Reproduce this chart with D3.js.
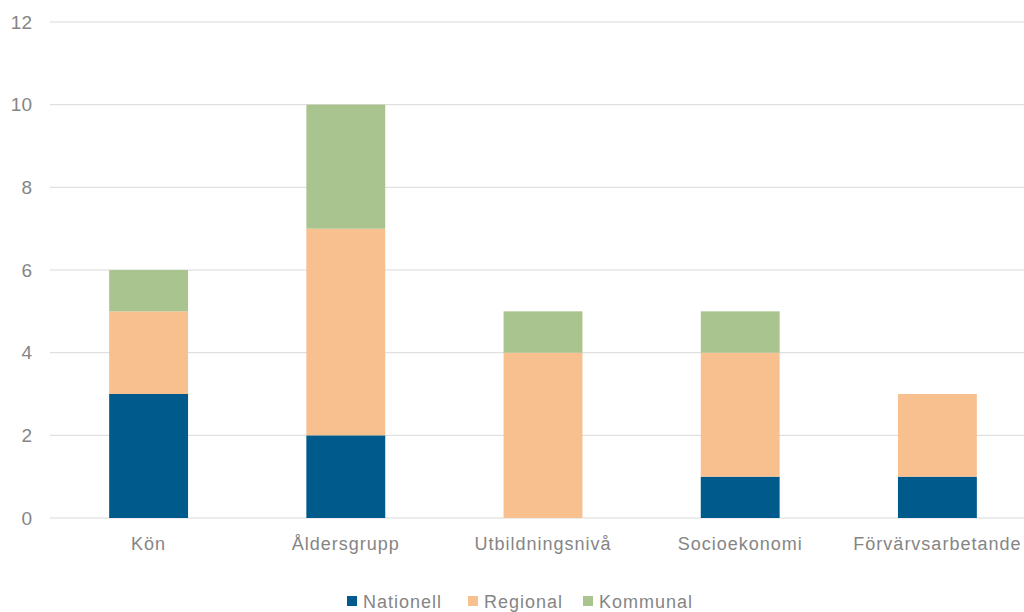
<!DOCTYPE html>
<html>
<head>
<meta charset="utf-8">
<script src="https://cdn.jsdelivr.net/npm/d3@7"></script>
<style>
  body { margin: 0; background: #fff; }
  text { font-family: "Liberation Sans", Arial, sans-serif; }
</style>
</head>
<body>
<div id="chart"></div>
<script>
// data
const categories = ['Kön', 'Åldersgrupp', 'Utbildningsnivå', 'Socioekonomi', 'Förvärvsarbetande'];
const seriesNames = ['Nationell', 'Regional', 'Kommunal'];
const nationell = [3, 2, 0, 1, 1];
const regional = [2, 5, 4, 3, 2];
const kommunal = [1, 3, 1, 1, 0];
const yTicks = [0, 2, 4, 6, 8, 10, 12];

const colors = ['#005a8c', '#f8c08f', '#aac48f'];
const labelColor = '#858585';

const width = 1024, height = 612;
const margin = { left: 50, top: 22, bottom: 94 };

const svg = d3.select('#chart').append('svg')
  .attr('width', width)
  .attr('height', height);

const rows = categories.map((c, i) => ({
  cat: c, Nationell: nationell[i], Regional: regional[i], Kommunal: kommunal[i]
}));

const x = d3.scaleBand()
  .domain(categories)
  .range([margin.left, margin.left + 197.2 * categories.length])
  .paddingInner(0.6)
  .paddingOuter(0.3);

const y = d3.scaleLinear()
  .domain([0, 12])
  .range([height - margin.bottom, margin.top]);

// gridlines
svg.append('g')
  .selectAll('line')
  .data(yTicks)
  .enter()
  .append('line')
  .attr('x1', margin.left)
  .attr('x2', width)
  .attr('y1', d => y(d))
  .attr('y2', d => y(d))
  .style('stroke', '#d9d9d9')
  .style('stroke-width', 1);

// y axis labels
const yAxis = svg.append('g')
  .attr('transform', 'translate(' + 32 + ',0)')
  .call(d3.axisLeft(y).tickValues(yTicks).tickSize(0).tickPadding(0));
yAxis.select('.domain').remove();
yAxis.selectAll('text')
  .style('font-size', '19px')
  .style('fill', labelColor)
  .style('font-family', '"Liberation Sans", Arial, sans-serif');

// stacked bars
const stack = d3.stack().keys(seriesNames)(rows);

svg.append('g')
  .selectAll('g')
  .data(stack)
  .enter()
  .append('g')
  .style('fill', (d, i) => colors[i])
  .selectAll('rect')
  .data(d => d)
  .enter()
  .append('rect')
  .attr('x', d => x(d.data.cat))
  .attr('width', x.bandwidth())
  .attr('y', d => y(d[1]))
  .attr('height', d => y(d[0]) - y(d[1]));

// x axis labels
const xAxis = svg.append('g')
  .attr('transform', 'translate(0,' + (height - margin.bottom + 19) + ')')
  .call(d3.axisBottom(x).tickSize(0).tickPadding(0));
xAxis.select('.domain').remove();
xAxis.selectAll('text')
  .style('font-size', '18px')
  .style('letter-spacing', '1px')
  .style('fill', labelColor)
  .style('font-family', '"Liberation Sans", Arial, sans-serif');

// legend
const legendX = [347, 468, 583];
const legend = svg.append('g');
seriesNames.forEach((name, i) => {
  legend.append('rect')
    .attr('x', legendX[i])
    .attr('y', 596)
    .attr('width', 10)
    .attr('height', 10)
    .style('fill', colors[i]);
  legend.append('text')
    .text(name)
    .attr('x', legendX[i] + 16)
    .attr('y', 608)
    .style('font-size', '18px')
    .style('letter-spacing', '1px')
    .style('fill', labelColor);
});
</script>
</body>
</html>
